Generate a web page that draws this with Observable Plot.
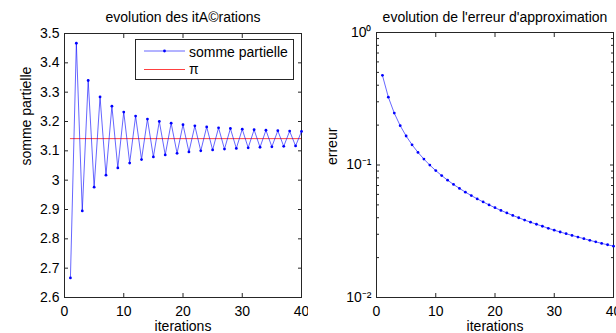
<!DOCTYPE html>
<html>
<head>
<meta charset="utf-8">
<script src="https://cdn.jsdelivr.net/npm/d3@7"></script>
<script src="https://cdn.jsdelivr.net/npm/@observablehq/plot@0.6"></script>
<style>
  body { margin: 0; background: white; }
  #wrap { position: relative; width: 616px; height: 333px; background: white; overflow: hidden; font-family: "Liberation Sans", Arial, sans-serif; }
  .panel { position: absolute; top: 0; width: 308px; height: 333px; }
  #legend { position: absolute; left: 0; top: 0; }
</style>
</head>
<body>
<div id="wrap">
  <div class="panel" id="left" style="left:0"></div>
  <div class="panel" id="right" style="left:308px"></div>
</div>
<script>
// ---- data ----
const iterations = [1,2,3,4,5,6,7,8,9,10,11,12,13,14,15,16,17,18,19,20,
                    21,22,23,24,25,26,27,28,29,30,31,32,33,34,35,36,37,38,39,40];
const partialSums = [2.6667,3.4667,2.8952,3.3397,2.9760,3.2837,3.0171,3.2524,3.0418,3.2323,
                     3.0584,3.2184,3.0703,3.2082,3.0792,3.2004,3.0861,3.1942,3.0916,3.1892,
                     3.0962,3.1851,3.0999,3.1816,3.1031,3.1786,3.1059,3.1761,3.1083,3.1738,
                     3.1104,3.1719,3.1122,3.1702,3.1138,3.1686,3.1153,3.1672,3.1166,3.1660];
const errors = [0.4749,0.3251,0.2464,0.1981,0.1655,0.1421,0.1245,0.1108,0.0998,0.0907,
                0.0832,0.0768,0.0713,0.0666,0.0624,0.0588,0.0555,0.0526,0.0500,0.0476,
                0.0454,0.0435,0.0416,0.0400,0.0384,0.0370,0.0357,0.0345,0.0333,0.0322,
                0.0312,0.0303,0.0294,0.0286,0.0278,0.0270,0.0263,0.0256,0.0250,0.0244];
const piValue = 3.14159265;
const xTicks = [0,10,20,30,40];
const yTicksLeft = [2.6,2.7,2.8,2.9,3,3.1,3.2,3.3,3.4,3.5];
const yTickLabelsLeft = ["2.6","2.7","2.8","2.9","3","3.1","3.2","3.3","3.4","3.5"];
const yTicksRight = [0.01,0.1,1];
const yTickLabelsRight = ["10\u207B\u00B2","10\u207B\u00B9","10\u2070"];
const yMinorRight = [0.02,0.03,0.04,0.05,0.06,0.07,0.08,0.09,0.2,0.3,0.4,0.5,0.6,0.7,0.8,0.9];
const titles = ["evolution des itA\u00A9rations","evolution de l'erreur d'approximation"];
const xLabel = "iterations";
const yLabels = ["somme partielle","erreur"];
const legendLabels = ["somme partielle","\u03C0"];

// ---- styles ----
const FONT = '"Liberation Sans", Arial, Helvetica, sans-serif';
const AX = "#262626";
const BLUE = "#0000ff";
const RED = "#ff0000";

const seriesData = iterations.map((x, i) => ({x, s: partialSums[i], e: errors[i]}));

function commonAxes(yTicks, yFmt, extraY) {
  return [
    Plot.frame({stroke: AX, strokeWidth: 1}),
    Plot.axisX({anchor: "bottom", ticks: xTicks, tickSize: 0, tickPadding: 9, tickFormat: d => String(d), label: null, fontSize: 14, fill: "#000"}),
    Plot.axisX({anchor: "bottom", ticks: xTicks, tickSize: -4, tickFormat: () => "", label: null, stroke: AX}),
    Plot.axisX({anchor: "top", ticks: xTicks, tickSize: -4, tickFormat: () => "", label: null, stroke: AX}),
    Plot.axisY({anchor: "left", ticks: yTicks, tickSize: 0, tickPadding: 5, tickFormat: yFmt, label: null, fontSize: 14, fill: "#000"}),
    Plot.axisY({anchor: "left", ticks: yTicks, tickSize: -4, tickFormat: () => "", label: null, stroke: AX}),
    Plot.axisY({anchor: "right", ticks: yTicks, tickSize: -4, tickFormat: () => "", label: null, stroke: AX}),
    ...extraY
  ];
}

// ---- left panel ----
const left = Plot.plot({
  width: 308, height: 333,
  marginLeft: 64, marginRight: 7, marginTop: 33, marginBottom: 36,
  x: {type: "linear", domain: [0, 40]},
  y: {type: "linear", domain: [2.6, 3.5]},
  style: {fontFamily: FONT, fontSize: "14px", color: "#000", background: "white"},
  marks: [
    ...commonAxes(yTicksLeft, d => yTickLabelsLeft[yTicksLeft.indexOf(d)] ?? String(d), []),
    Plot.ruleY([piValue], {x1: iterations[0], x2: iterations[iterations.length - 1], stroke: RED, strokeWidth: 1, strokeOpacity: 0.75}),
    Plot.line(seriesData, {x: "x", y: "s", stroke: BLUE, strokeWidth: 1, strokeOpacity: 0.6}),
    Plot.dot(seriesData, {x: "x", y: "s", r: 1.4, fill: BLUE, stroke: null}),
    Plot.text([titles[0]], {text: d => d, frameAnchor: "top", dy: -12, lineAnchor: "bottom", fontSize: 14, fill: "#000"}),
    Plot.text([xLabel], {text: d => d, frameAnchor: "bottom", dy: 24, lineAnchor: "top", fontSize: 14, fill: "#000"}),
    Plot.text([yLabels[0]], {text: d => d, frameAnchor: "left", dx: -38, rotate: -90, fontSize: 14, fill: "#000"})
  ]
});
document.getElementById("left").appendChild(left);

// legend (inside left axes)
const lg = d3.select("#left").append("svg")
  .attr("id", "legend").attr("width", 308).attr("height", 333)
  .style("position", "absolute").style("left", "0px").style("top", "0px")
  .style("font-family", FONT).style("font-size", "14px");
lg.append("rect").attr("x", 135.5).attr("y", 39.5).attr("width", 158).attr("height", 40)
  .attr("fill", "white").attr("stroke", AX).attr("stroke-width", 1);
lg.append("line").attr("x1", 144).attr("x2", 185).attr("y1", 51).attr("y2", 51)
  .attr("stroke", BLUE).attr("stroke-opacity", 0.6).attr("stroke-width", 1);
lg.append("circle").attr("cx", 164.5).attr("cy", 51).attr("r", 1.4).attr("fill", BLUE);
lg.append("line").attr("x1", 144).attr("x2", 185).attr("y1", 69.5).attr("y2", 69.5)
  .attr("stroke", RED).attr("stroke-opacity", 0.75).attr("stroke-width", 1);
lg.append("text").attr("x", 189).attr("y", 56.5).text(legendLabels[0]);
lg.append("text").attr("x", 189).attr("y", 74).text(legendLabels[1]);

// ---- right panel ----
const right = Plot.plot({
  width: 308, height: 333,
  marginLeft: 68, marginRight: 3, marginTop: 32, marginBottom: 36,
  x: {type: "linear", domain: [0, 40]},
  y: {type: "log", domain: [0.01, 1]},
  style: {fontFamily: FONT, fontSize: "14px", color: "#000", background: "white"},
  marks: [
    ...commonAxes(yTicksRight, d => yTickLabelsRight[yTicksRight.indexOf(d)] ?? "", [
      Plot.axisY({anchor: "left", ticks: yMinorRight, tickSize: -3, tickFormat: () => "", label: null, stroke: AX}),
      Plot.axisY({anchor: "right", ticks: yMinorRight, tickSize: -3, tickFormat: () => "", label: null, stroke: AX})
    ]),
    Plot.line(seriesData, {x: "x", y: "e", stroke: BLUE, strokeWidth: 1, strokeOpacity: 0.6}),
    Plot.dot(seriesData, {x: "x", y: "e", r: 1.4, fill: BLUE, stroke: null}),
    Plot.text([titles[1]], {text: d => d, frameAnchor: "top", dy: -11, lineAnchor: "bottom", fontSize: 14, fill: "#000"}),
    Plot.text([xLabel], {text: d => d, frameAnchor: "bottom", dy: 24, lineAnchor: "top", fontSize: 14, fill: "#000"}),
    Plot.text([yLabels[1]], {text: d => d, frameAnchor: "left", dx: -44, rotate: -90, fontSize: 14, fill: "#000"})
  ]
});
document.getElementById("right").appendChild(right);
</script>
</body>
</html>
